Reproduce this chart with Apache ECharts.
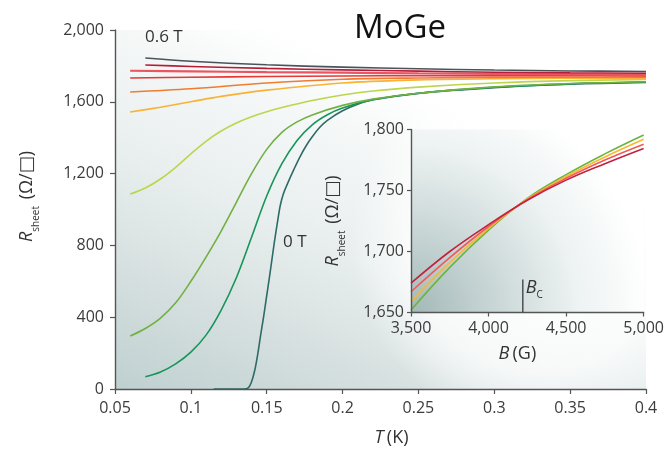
<!DOCTYPE html>
<html>
<head>
<meta charset="utf-8">
<script src="https://cdn.jsdelivr.net/npm/echarts@6/dist/echarts.min.js"></script>
<style>
  html, body { margin: 0; padding: 0; background: #ffffff; }
  #chart { width: 667px; height: 452px; }
</style>
</head>
<body>
<div id="chart"></div>
<script>
// Sheet resistance of a MoGe film versus temperature, one curve per field
// [T (K), R_sheet (ohm/sq)]
const field06T   = [[0.07,1844],[0.1,1826],[0.15,1806],[0.2,1793],[0.25,1784],[0.3,1777],[0.35,1772],[0.4,1769]];
const fieldRed1  = [[0.07,1805],[0.1,1797],[0.15,1786],[0.2,1778],[0.25,1771],[0.3,1765],[0.35,1761],[0.4,1759]];
const fieldRed2  = [[0.06,1773],[0.1,1770],[0.15,1765],[0.2,1762],[0.25,1758],[0.3,1755],[0.35,1752],[0.4,1750]];
const fieldRed3  = [[0.06,1733],[0.1,1737],[0.15,1741],[0.2,1744],[0.25,1745],[0.3,1745],[0.35,1745],[0.4,1744]];
const fieldOrange = [[0.06,1655],[0.1,1673],[0.15,1705],[0.2,1726],[0.25,1733],[0.3,1736],[0.35,1737],[0.4,1737]];
const fieldYellow = [[0.06,1543],[0.08,1570],[0.1,1600],[0.12,1630],[0.15,1665],[0.2,1705],[0.25,1722],[0.3,1729],[0.35,1731],[0.4,1732]];
const fieldLime  = [[0.06,1086],[0.07,1120],[0.08,1170],[0.09,1235],[0.1,1310],[0.11,1380],[0.12,1437],[0.13,1482],[0.14,1517],[0.15,1545],[0.16,1568],[0.18,1607],[0.2,1638],[0.22,1660],[0.25,1682],[0.3,1705],[0.35,1718],[0.4,1724]];
const fieldGreen = [[0.06,295],[0.07,337],[0.08,395],[0.09,480],[0.1,600],[0.11,735],[0.12,880],[0.13,1040],[0.14,1200],[0.15,1335],[0.16,1430],[0.17,1488],[0.18,1527],[0.2,1580],[0.22,1615],[0.25,1648],[0.3,1683],[0.35,1702],[0.4,1712]];
const fieldDeep  = [[0.07,68],[0.08,95],[0.09,140],[0.1,205],[0.11,300],[0.12,440],[0.13,620],[0.14,845],[0.15,1075],[0.16,1255],[0.17,1385],[0.18,1472],[0.19,1528],[0.2,1565],[0.22,1612],[0.25,1648],[0.3,1681],[0.35,1700],[0.4,1710]];
const field0T    = [[0.115,0],[0.135,0],[0.138,8],[0.14,40],[0.142,100],[0.144,190],[0.146,300],[0.148,405],[0.15,520],[0.152,635],[0.155,815],[0.157,925],[0.159,1025],[0.161,1088],[0.164,1150],[0.168,1225],[0.172,1295],[0.176,1355],[0.18,1405],[0.185,1458],[0.19,1497],[0.2,1550],[0.21,1586],[0.22,1611],[0.25,1647],[0.3,1679],[0.35,1698],[0.4,1708]];

// Inset: R_sheet versus field B (G), crossing near Bc
const insetB      = [3500, 3750, 4000, 4250, 4500, 4750, 5000];
const insetRed    = [1674, 1700, 1722, 1742, 1758.5, 1772, 1784.5];
const insetPink   = [1667, 1695, 1720.5, 1742.5, 1760, 1775, 1788];
const insetYellow = [1659, 1691, 1719, 1743, 1761.5, 1777.5, 1792];
const insetGreen  = [1652, 1687, 1717.5, 1743.5, 1763, 1780, 1795.5];
const bcField = 4221;
const bcMark = [1650, 1677];

const tTicks = { min: 0.05, max: 0.4, interval: 0.05 };
const rTicks = { min: 0, max: 2000, interval: 400 };
const bTicks = { min: 3500, max: 5000, interval: 500 };
const rInsetTicks = { min: 1650, max: 1800, interval: 50 };

const FONT = '"Open Sans", "DejaVu Sans", sans-serif';
const commas = v => Math.round(v).toString().replace(/\B(?=(\d{3})+(?!\d))/g, ',');

const chart = echarts.init(document.getElementById('chart'), null, { renderer: 'canvas' });

function curve(name, data, color, width) {
  return {
    name, type: 'line', data, showSymbol: false, smooth: 0.35,
    lineStyle: { color, width: width || 1.6 }, z: 2, silent: true
  };
}
function insetCurve(name, values, color) {
  return {
    name, type: 'line', xAxisIndex: 1, yAxisIndex: 1,
    data: insetB.map((b, i) => [b, values[i]]),
    showSymbol: false, smooth: 0.4, lineStyle: { color, width: 1.6 }, z: 6, silent: true
  };
}

const axisLine = { show: true, lineStyle: { color: '#555', width: 1.4 } };
const axisTick = { show: true, inside: false, length: 5, lineStyle: { color: '#555', width: 1.2 } };
const tickLabel = { color: '#3c3c3c', fontFamily: FONT, fontSize: 16 };

const nameRich = {
  i: { fontStyle: 'italic', fontSize: 18, fontFamily: FONT, color: '#333' },
  s: { fontSize: 10, fontFamily: FONT, color: '#333', verticalAlign: 'bottom', lineHeight: 28 },
  t: { fontSize: 18, fontFamily: FONT, color: '#333' }
};

chart.setOption({
  backgroundColor: '#ffffff',
  animation: false,
  title: {
    text: 'MoGe', left: 349, top: 7,
    textStyle: { fontFamily: FONT, fontSize: 33, fontWeight: 'normal', color: '#111' }
  },
  grid: [
    { left: 115, right: 21, top: 30, bottom: 63, show: true, borderWidth: 0, z: 0,
      backgroundColor: { type: 'linear', x: 0, y: 1, x2: 0.3, y2: 0,
        colorStops: [{ offset: 0, color: '#bfd0d0' }, { offset: 0.3, color: '#d7e0e0' },
                     { offset: 0.55, color: '#e8eeee' }, { offset: 0.85, color: '#f6f8f8' }, { offset: 1, color: '#ffffff' }] } },
    { left: 411, right: 22, top: 129.5, bottom: 139.5, show: true, borderWidth: 0, z: 4,
      backgroundColor: { type: 'radial', x: 0, y: 1, r: 1.3,
        colorStops: [{ offset: 0, color: '#a3b8b8' }, { offset: 0.35, color: '#c9d6d6' },
                     { offset: 0.7, color: '#edf2f2' }, { offset: 1, color: '#ffffff' }] } }
  ],
  graphic: [
    // soft white glow behind the inset panel
    { type: 'rect', z: 1, silent: true,
      shape: { x: 330, y: 40, width: 337, height: 400 },
      style: { fill: { type: 'radial', x: 0.62, y: 0.5, r: 0.56,
        colorStops: [{ offset: 0, color: 'rgba(255,255,255,0.95)' }, { offset: 0.7, color: 'rgba(255,255,255,0.7)' }, { offset: 1, color: 'rgba(255,255,255,0)' }] } } },
    { type: 'text', z: 10, left: 145, top: 29, style: { text: '0.6 T', font: '17px ' + FONT, fill: '#333' } },
    { type: 'text', z: 10, left: 283, top: 234, style: { text: '0 T', font: '17px ' + FONT, fill: '#333' } }
  ],
  xAxis: [
    { type: 'value', gridIndex: 0, min: tTicks.min, max: tTicks.max, interval: tTicks.interval, z: 5,
      axisLine, axisTick, splitLine: { show: false },
      axisLabel: Object.assign({ margin: 11 }, tickLabel),
      name: '{i|T} {t|(K)}', nameLocation: 'middle', nameGap: 40,
      nameTextStyle: { rich: nameRich, padding: [0, 0, 0, 22] } },
    { type: 'value', gridIndex: 1, min: bTicks.min, max: bTicks.max, interval: bTicks.interval, z: 7,
      axisLine, axisTick: Object.assign({}, axisTick, { length: 4 }), splitLine: { show: false },
      axisLabel: Object.assign({ margin: 8, formatter: commas }, tickLabel),
      name: '{i|B} {t|(G)}', nameLocation: 'middle', nameGap: 32,
      nameTextStyle: { rich: nameRich, padding: [0, 20, 0, 0] } }
  ],
  yAxis: [
    { type: 'value', gridIndex: 0, min: rTicks.min, max: rTicks.max, interval: rTicks.interval, z: 5,
      axisLine, axisTick, splitLine: { show: false },
      axisLabel: Object.assign({ margin: 11, formatter: commas }, tickLabel),
      name: '{i|R}{s|sheet}  {t|(Ω/□)}', nameLocation: 'middle', nameGap: 74,
      nameTextStyle: { rich: nameRich, padding: [0, 0, 0, 26] } },
    { type: 'value', gridIndex: 1, min: rInsetTicks.min, max: rInsetTicks.max, interval: rInsetTicks.interval, z: 7,
      axisLine, axisTick: Object.assign({}, axisTick, { length: 4 }), splitLine: { show: false },
      axisLabel: Object.assign({ margin: 7, formatter: commas }, tickLabel),
      name: '{i|R}{s|sheet}  {t|(Ω/□)}', nameLocation: 'middle', nameGap: 64,
      nameTextStyle: { rich: nameRich } }
  ],
  series: [
    curve('0 T', field0T, '#2f6b66'),
    curve('deep green', fieldDeep, '#17955a'),
    curve('green', fieldGreen, '#72b043'),
    curve('lime', fieldLime, '#bdd54c'),
    curve('yellow', fieldYellow, '#f9b232'),
    curve('orange', fieldOrange, '#ef7c31'),
    curve('red 3', fieldRed3, '#e53935'),
    curve('red 2', fieldRed2, '#ea5560', 2.2),
    curve('red 1', fieldRed1, '#b71c36'),
    curve('0.6 T', field06T, '#4a545b'),
    insetCurve('inset green', insetGreen, '#6db33f'),
    insetCurve('inset yellow', insetYellow, '#f8b72c'),
    insetCurve('inset pink', insetPink, '#ef5b5b'),
    insetCurve('inset red', insetRed, '#c0223f'),
    {
      name: 'Bc', type: 'line', xAxisIndex: 1, yAxisIndex: 1, z: 7, silent: true,
      showSymbol: true, symbol: 'circle', symbolSize: 0,
      data: [[bcField, bcMark[0]], { value: [bcField, bcMark[1]],
        label: { show: true, position: 'right', distance: 0, offset: [3, 8], formatter: '{i|B}{s|C}',
          rich: { i: { fontStyle: 'italic', fontSize: 18, fontFamily: FONT, color: '#333' },
                  s: { fontSize: 10, fontFamily: FONT, color: '#333', verticalAlign: 'bottom', lineHeight: 26 } } } }],
      lineStyle: { color: '#444', width: 1.4 }
    }
  ]
});
</script>
</body>
</html>
